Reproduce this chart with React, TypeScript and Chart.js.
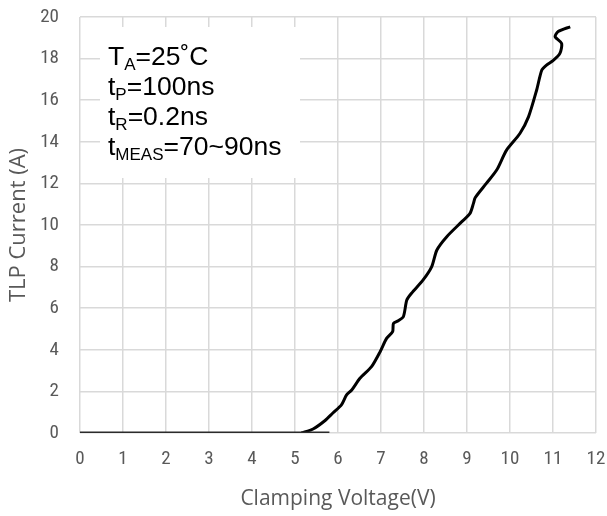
import React, { useEffect, useRef } from "react";
import { Chart, registerables } from "chart.js";

Chart.register(...registerables);

const voltage = [5.15, 5.42, 5.7, 5.88, 6.08, 6.2, 6.32, 6.51, 6.78, 6.98, 7.13, 7.27, 7.29, 7.4, 7.52, 7.6, 7.71, 7.98, 8.18, 8.3, 8.53, 8.88, 9.07, 9.15, 9.19, 9.45, 9.69, 9.92, 10.23, 10.43, 10.62, 10.74, 10.85, 11.0, 11.16, 11.2, 11.05, 11.12, 11.4];
const current = [0, 0.19, 0.6, 0.96, 1.35, 1.83, 2.07, 2.63, 3.19, 3.91, 4.55, 4.87, 5.27, 5.4, 5.59, 6.39, 6.72, 7.36, 8.0, 8.8, 9.44, 10.16, 10.56, 11.04, 11.31, 12.0, 12.64, 13.6, 14.4, 15.2, 16.49, 17.45, 17.69, 17.9, 18.25, 18.73, 19.05, 19.3, 19.53];
const baseVoltage = [0, 5.8];
const baseCurrent = [0, 0];

const xTicks = [0, 1, 2, 3, 4, 5, 6, 7, 8, 9, 10, 11, 12];
const yTicks = [0, 2, 4, 6, 8, 10, 12, 14, 16, 18, 20];

const noteLines: [string, string, string][] = [
  ["T", "A", "=25˚C"],
  ["t", "P", "=100ns"],
  ["t", "R", "=0.2ns"],
  ["t", "MEAS", "=70~90ns"],
];

const TICK_FONT = "'Roboto Condensed', 'Open Sans', sans-serif";
const TITLE_FONT = "'Open Sans', sans-serif";
const NOTE_FONT = "'Liberation Sans', Arial, sans-serif";
const GREY = "#595959";

const notePlugin = {
  id: "notePlugin",
  beforeDatasetsDraw(chart: any) {
    const { ctx, chartArea } = chart;
    ctx.save();
    ctx.fillStyle = "#ffffff";
    ctx.fillRect(chartArea.left + 20, chartArea.top + 10, 200, 151);
    ctx.restore();
  },
  afterDraw(chart: any) {
    const { ctx, chartArea } = chart;
    ctx.save();
    ctx.fillStyle = "#000000";
    ctx.textBaseline = "alphabetic";
    let y = chartArea.top + 48;
    const x0 = chartArea.left + 28;
    for (const [main, sub, rest] of noteLines) {
      let x = x0;
      ctx.font = `26.5px ${NOTE_FONT}`;
      ctx.fillText(main, x, y);
      x += ctx.measureText(main).width;
      ctx.font = `17px ${NOTE_FONT}`;
      ctx.fillText(sub, x, y + 5);
      x += ctx.measureText(sub).width;
      ctx.font = `26.5px ${NOTE_FONT}`;
      ctx.fillText(rest, x, y);
      y += 30;
    }
    ctx.restore();
  },
};

export default function App() {
  const ref = useRef<HTMLCanvasElement | null>(null);
  useEffect(() => {
    if (!ref.current) return;
    const chart = new Chart(ref.current, {
      type: "line",
      data: {
        datasets: [
          {
            data: baseVoltage.map((v, i) => ({ x: v, y: baseCurrent[i] })),
            borderColor: "#2b2b2b",
            borderWidth: 3,
            pointRadius: 0,
            tension: 0,
          },
          {
            data: voltage.map((v, i) => ({ x: v, y: current[i] })),
            borderColor: "#000000",
            borderWidth: 3,
            pointRadius: 0,
            tension: 0.25,
          },
        ],
      },
      options: {
        animation: false,
        responsive: false,
        maintainAspectRatio: false,
        layout: { padding: { left: 0, right: 11, top: 17, bottom: 0 } },
        plugins: { legend: { display: false }, tooltip: { enabled: false } },
        scales: {
          x: {
            type: "linear",
            min: 0,
            max: 12,
            afterBuildTicks: (s: any) => {
              s.ticks = xTicks.map((v) => ({ value: v }));
            },
            afterFit: (s: any) => {
              s.height = 83;
              s.paddingLeft = 0;
              s.paddingRight = 0;
            },
            grid: { color: "#d9d9d9", lineWidth: 1.5, drawTicks: false },
            border: { display: false },
            ticks: {
              color: GREY,
              padding: 15,
              font: { family: TICK_FONT, size: 19 },
              maxRotation: 0,
            },
            title: {
              display: true,
              text: "Clamping Voltage(V)",
              color: GREY,
              font: { family: TITLE_FONT, size: 21 },
              padding: { top: 5 },
            },
          },
          y: {
            type: "linear",
            min: 0,
            max: 20,
            afterBuildTicks: (s: any) => {
              s.ticks = yTicks.map((v) => ({ value: v }));
            },
            afterFit: (s: any) => {
              s.width = 80;
              s.paddingTop = 0;
              s.paddingBottom = 0;
            },
            grid: { color: "#d9d9d9", lineWidth: 1.5, drawTicks: false },
            border: { display: false },
            ticks: {
              color: GREY,
              padding: 21,
              font: { family: TICK_FONT, size: 19 },
            },
            title: {
              display: true,
              text: "TLP Current (A)",
              color: GREY,
              font: { family: TITLE_FONT, size: 22 },
              padding: { top: 6, bottom: 0 },
            },
          },
        },
      },
      plugins: [notePlugin],
    });
    return () => chart.destroy();
  }, []);
  return (
    <div style={{ position: "fixed", left: 0, top: 0, width: 607, height: 516, background: "#fff" }}>
      <canvas ref={ref} width={607} height={516} style={{ display: "block" }} />
    </div>
  );
}
